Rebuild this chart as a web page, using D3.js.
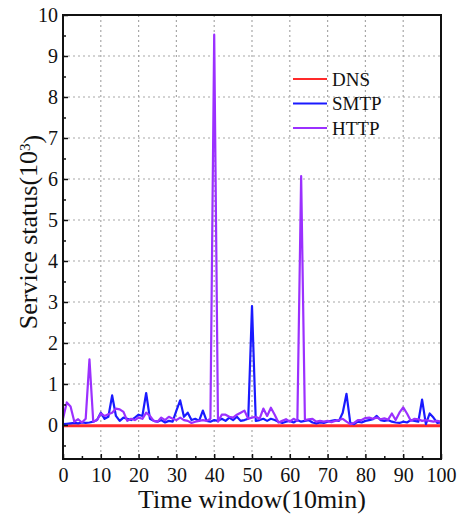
<!DOCTYPE html>
<html>
<head>
<meta charset="utf-8">
<script src="https://cdn.jsdelivr.net/npm/d3@7"></script>
<style>
  body { margin: 0; background: #fff; }
  svg { display: block; }
</style>
</head>
<body>
<div class="chart"></div>
<script>
// time windows 0..100 (10 min each)
var timeWindows = d3.range(0, 101);

// service status in 10^3
var dnsValues = [
  -0.02,-0.02,-0.02,-0.02,-0.02,-0.02,-0.02,-0.02,-0.02,-0.02,
  -0.02,-0.02,-0.02,-0.02,-0.02,-0.02,-0.02,-0.02,-0.02,-0.02,
  -0.02,-0.02,-0.02,-0.02,-0.02,-0.02,-0.02,-0.02,-0.02,-0.02,
  -0.02,-0.02,-0.02,-0.02,-0.02,-0.02,-0.02,-0.02,-0.02,-0.02,
  -0.02,-0.02,-0.02,-0.02,-0.02,-0.02,-0.02,-0.02,-0.02,-0.02,
  -0.02,-0.02,-0.02,-0.02,-0.02,-0.02,-0.02,-0.02,-0.02,-0.02,
  -0.02,-0.02,-0.02,-0.02,-0.02,-0.02,-0.02,-0.02,-0.02,-0.02,
  -0.02,-0.02,-0.02,-0.02,-0.02,-0.02,-0.02,-0.02,-0.02,-0.02,
  -0.02,-0.02,-0.02,-0.02,-0.02,-0.02,-0.02,-0.02,-0.02,-0.02,
  -0.02,-0.02,-0.02,-0.02,-0.02,-0.02,-0.02,-0.02,-0.02,-0.02,
  -0.02
];

var smtpValues = [
  0.02,0.03,0.04,0.05,0.04,0.06,0.05,0.06,0.08,0.12,
  0.30,0.15,0.20,0.72,0.22,0.10,0.18,0.15,0.12,0.18,
  0.25,0.22,0.78,0.15,0.10,0.08,0.12,0.06,0.10,0.08,
  0.35,0.60,0.20,0.30,0.12,0.15,0.10,0.35,0.10,0.08,
  0.12,0.10,0.15,0.10,0.18,0.12,0.20,0.10,0.12,0.15,
  2.90,0.10,0.12,0.15,0.10,0.15,0.12,0.08,0.05,0.08,
  0.10,0.06,0.12,0.08,0.10,0.12,0.06,0.04,0.06,0.05,
  0.08,0.10,0.12,0.10,0.30,0.76,0.05,0.02,0.08,0.06,
  0.10,0.12,0.14,0.22,0.12,0.10,0.12,0.08,0.06,0.05,
  0.08,0.06,0.12,0.10,0.08,0.62,0.02,0.28,0.18,0.05,
  0.06
];

var httpValues = [
  0.15,0.55,0.45,0.08,0.14,0.06,0.15,1.60,0.08,0.12,
  0.28,0.22,0.26,0.30,0.40,0.38,0.32,0.10,0.15,0.12,
  0.18,0.15,0.30,0.22,0.10,0.08,0.18,0.12,0.20,0.15,
  0.12,0.18,0.12,0.10,0.05,0.08,0.10,0.12,0.10,0.15,
  9.52,0.08,0.25,0.25,0.20,0.18,0.25,0.30,0.35,0.15,
  0.18,0.20,0.15,0.40,0.22,0.42,0.25,0.06,0.10,0.14,
  0.08,0.15,0.10,6.07,0.12,0.14,0.15,0.08,0.10,0.08,
  0.10,0.07,0.10,0.12,0.15,0.08,0.02,0.05,0.12,0.12,
  0.17,0.18,0.15,0.18,0.14,0.16,0.13,0.28,0.12,0.30,
  0.43,0.28,0.10,0.15,0.14,0.10,0.12,0.10,0.08,0.10,
  0.08
];

var seriesNames = ["DNS", "SMTP", "HTTP"];
var seriesColors = ["#ff2a2a", "#1a1aff", "#9b30ff"];
var seriesWidths = [3, 2.2, 2.2];
var seriesValues = [dnsValues, smtpValues, httpValues];

var xTicks = [0, 10, 20, 30, 40, 50, 60, 70, 80, 90, 100];
var yTicks = [0, 1, 2, 3, 4, 5, 6, 7, 8, 9, 10];
var xMinorTicks = [5, 15, 25, 35, 45, 55, 65, 75, 85, 95];
var yMinorTicks = [-0.5, 0.5, 1.5, 2.5, 3.5, 4.5, 5.5, 6.5, 7.5, 8.5, 9.5];

var xTitle = "Time window(10min)";

function drawServiceChart(container){
  var svg_width = 458;
  var svg_height = 517;
  var margins = {
    top: 15,
    bottom: 58,
    right: 17,
    left: 63
  };

  var height = svg_height - margins.top - margins.bottom;
  var width = svg_width - margins.left - margins.right;
  var font = "'Liberation Serif', 'Times New Roman', serif";

  var svg = d3.select(container)
              .append("svg")
              .attr("width", svg_width)
              .attr("height", svg_height);

  var svg_g = svg.append("g")
                 .attr("transform", "translate(" + margins.left + ", " + margins.top + ")");

  var x = d3.scaleLinear()
            .domain([0, 100])
            .range([0, width]);

  var y = d3.scaleLinear()
            .domain([-0.83, 10])
            .range([height, 0]);

  // dotted gridlines
  svg_g.append("g")
      .selectAll("line")
      .data(xTicks.slice(1, -1))
      .enter()
      .append("line")
      .attr("x1", d => x(d))
      .attr("x2", d => x(d))
      .attr("y1", 0)
      .attr("y2", height)
      .style("stroke", "#a8a8a8")
      .style("stroke-width", 1.2)
      .style("stroke-dasharray", "2,3");

  svg_g.append("g")
      .selectAll("line")
      .data(yTicks.slice(1, -1))
      .enter()
      .append("line")
      .attr("x1", 0)
      .attr("x2", width)
      .attr("y1", d => y(d))
      .attr("y2", d => y(d))
      .style("stroke", "#a8a8a8")
      .style("stroke-width", 1.2)
      .style("stroke-dasharray", "2,3");

  // series lines
  var line = d3.line()
               .x((d, i) => x(timeWindows[i]))
               .y(d => y(d));

  seriesValues.forEach(function(vals, k){
    svg_g.append("path")
        .datum(vals)
        .attr("d", line)
        .style("fill", "none")
        .style("stroke", seriesColors[k])
        .style("stroke-width", seriesWidths[k])
        .style("stroke-linejoin", "round");
  });

  // axes, ticks pointing inward
  var xAxis = d3.axisBottom(x)
                .tickValues(xTicks)
                .tickSizeInner(-5)
                .tickSizeOuter(0)
                .tickPadding(9)
                .tickFormat(d3.format("d"));

  var xAxisMinor = d3.axisBottom(x)
                .tickValues(xMinorTicks)
                .tickSizeInner(-3)
                .tickSizeOuter(0)
                .tickFormat("");

  var yAxis = d3.axisLeft(y)
                .tickValues(yTicks)
                .tickSizeInner(-5)
                .tickSizeOuter(0)
                .tickPadding(5)
                .tickFormat(d3.format("d"));

  var yAxisMinor = d3.axisLeft(y)
                .tickValues(yMinorTicks)
                .tickSizeInner(-3)
                .tickSizeOuter(0)
                .tickFormat("");

  svg_g.append("g")
      .attr("transform", "translate(0," + height + ")")
      .call(xAxisMinor);

  svg_g.append("g")
      .attr("class", "x axis")
      .attr("transform", "translate(0," + height + ")")
      .call(xAxis);

  svg_g.append("g")
      .call(yAxisMinor);

  svg_g.append("g")
      .attr("class", "y axis")
      .call(yAxis);

  svg_g.selectAll(".tick line")
      .style("stroke", "#111")
      .style("stroke-width", 1.5);

  svg_g.selectAll(".domain").remove();

  svg_g.selectAll(".axis text")
      .style("font-family", font)
      .style("font-size", "20px")
      .style("fill", "#111");

  // frame
  svg_g.append("rect")
      .attr("x", 0)
      .attr("y", 0)
      .attr("width", width)
      .attr("height", height)
      .style("fill", "none")
      .style("stroke", "#111")
      .style("stroke-width", 2);

  // axis titles
  svg.append("text")
      .attr("x", margins.left + width / 2)
      .attr("y", 508)
      .attr("text-anchor", "middle")
      .style("font-family", font)
      .style("font-size", "26px")
      .style("fill", "#111")
      .text(xTitle);

  var yTitle = svg.append("text")
      .attr("transform", "translate(37, 232) rotate(-90)")
      .attr("text-anchor", "middle")
      .style("font-family", font)
      .style("font-size", "26px")
      .style("fill", "#111");
  yTitle.append("tspan").text("Service status(10");
  yTitle.append("tspan")
      .attr("dy", "-0.5em")
      .style("font-size", "15px")
      .text("3");
  yTitle.append("tspan")
      .attr("dy", "0.45em")
      .text(")");

  // legend
  var legend = svg.append("g")
      .attr("transform", "translate(293, 79)");

  var legendItems = legend.selectAll("g")
      .data(seriesNames)
      .enter()
      .append("g")
      .attr("transform", (d, i) => "translate(0," + (i * 24.5) + ")");

  legendItems.append("line")
      .attr("x1", 0)
      .attr("x2", 34)
      .attr("y1", 0)
      .attr("y2", 0)
      .style("stroke", (d, i) => seriesColors[i])
      .style("stroke-width", 2);

  legendItems.append("text")
      .attr("x", 39)
      .attr("y", 0)
      .attr("dy", "0.35em")
      .style("font-family", font)
      .style("font-size", "19px")
      .style("fill", "#111")
      .text(d => d);
}

drawServiceChart(".chart");
</script>
</body>
</html>
